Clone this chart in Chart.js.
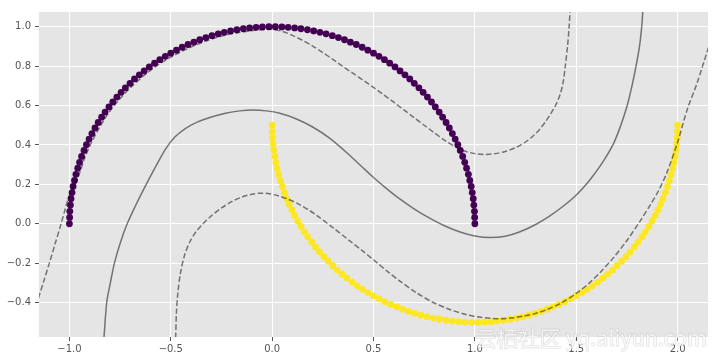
<!DOCTYPE html>
<html>
<head>
<meta charset="utf-8">
<script src="https://cdn.jsdelivr.net/npm/chart.js@4"></script>
<style>
  html, body { margin: 0; padding: 0; background: #ffffff; }
  #wrap { width: 718px; height: 361px; }
</style>
</head>
<body>
<div id="wrap"><canvas id="c" width="718" height="361"></canvas></div>
<script>
// ---- data ----
const xTicks = [-1.0, -0.5, 0.0, 0.5, 1.0, 1.5, 2.0];
const yTicks = [-0.4, -0.2, 0.0, 0.2, 0.4, 0.6, 0.8, 1.0];

// class 0 (upper moon)
const moon1X = [1.000, 0.999, 0.998, 0.995, 0.992, 0.987, 0.982, 0.975, 0.968, 0.959, 0.950, 0.940, 0.928, 0.916, 0.903, 0.889, 0.874, 0.858, 0.841, 0.824, 0.805, 0.786, 0.766, 0.745, 0.724, 0.701, 0.679, 0.655, 0.631, 0.606, 0.580, 0.554, 0.527, 0.500, 0.472, 0.444, 0.415, 0.386, 0.357, 0.327, 0.297, 0.266, 0.236, 0.205, 0.174, 0.142, 0.111, 0.079, 0.048, 0.016,
  -0.016, -0.048, -0.079, -0.111, -0.142, -0.174, -0.205, -0.236, -0.266, -0.297, -0.327, -0.357, -0.386, -0.415, -0.444, -0.472, -0.500, -0.527, -0.554, -0.580, -0.606, -0.631, -0.655, -0.679, -0.701, -0.724, -0.745, -0.766, -0.786, -0.805, -0.824, -0.841, -0.858, -0.874, -0.889, -0.903, -0.916, -0.928, -0.940, -0.950, -0.959, -0.968, -0.975, -0.982, -0.987, -0.992, -0.995, -0.998, -0.999, -1.000];
const moon1Y = [0.000, 0.032, 0.063, 0.095, 0.127, 0.158, 0.189, 0.220, 0.251, 0.282, 0.312, 0.342, 0.372, 0.401, 0.430, 0.458, 0.486, 0.514, 0.541, 0.567, 0.593, 0.618, 0.643, 0.667, 0.690, 0.713, 0.735, 0.756, 0.776, 0.796, 0.815, 0.833, 0.850, 0.866, 0.881, 0.896, 0.910, 0.922, 0.934, 0.945, 0.955, 0.964, 0.972, 0.979, 0.985, 0.990, 0.994, 0.997, 0.999, 1.000,
  1.000, 0.999, 0.997, 0.994, 0.990, 0.985, 0.979, 0.972, 0.964, 0.955, 0.945, 0.934, 0.922, 0.910, 0.896, 0.881, 0.866, 0.850, 0.833, 0.815, 0.796, 0.776, 0.756, 0.735, 0.713, 0.690, 0.667, 0.643, 0.618, 0.593, 0.567, 0.541, 0.514, 0.486, 0.458, 0.430, 0.401, 0.372, 0.342, 0.312, 0.282, 0.251, 0.220, 0.189, 0.158, 0.127, 0.095, 0.063, 0.032, 0.000];

// class 1 (lower moon)
const moon2X = [0.000, 0.001, 0.002, 0.005, 0.008, 0.013, 0.018, 0.025, 0.032, 0.041, 0.050, 0.060, 0.072, 0.084, 0.097, 0.111, 0.126, 0.142, 0.159, 0.176, 0.195, 0.214, 0.234, 0.255, 0.276, 0.299, 0.321, 0.345, 0.369, 0.394, 0.420, 0.446, 0.473, 0.500, 0.528, 0.556, 0.585, 0.614, 0.643, 0.673, 0.703, 0.734, 0.764, 0.795, 0.826, 0.858, 0.889, 0.921, 0.952, 0.984,
  1.016, 1.048, 1.079, 1.111, 1.142, 1.174, 1.205, 1.236, 1.266, 1.297, 1.327, 1.357, 1.386, 1.415, 1.444, 1.472, 1.500, 1.527, 1.554, 1.580, 1.606, 1.631, 1.655, 1.679, 1.701, 1.724, 1.745, 1.766, 1.786, 1.805, 1.824, 1.841, 1.858, 1.874, 1.889, 1.903, 1.916, 1.928, 1.940, 1.950, 1.959, 1.968, 1.975, 1.982, 1.987, 1.992, 1.995, 1.998, 1.999, 2.000];
const moon2Y = [0.500, 0.468, 0.437, 0.405, 0.373, 0.342, 0.311, 0.280, 0.249, 0.218, 0.188, 0.158, 0.128, 0.099, 0.070, 0.042, 0.014, -0.014, -0.041, -0.067, -0.093, -0.118, -0.143, -0.167, -0.190, -0.213, -0.235, -0.256, -0.276, -0.296, -0.315, -0.333, -0.350, -0.366, -0.381, -0.396, -0.410, -0.422, -0.434, -0.445, -0.455, -0.464, -0.472, -0.479, -0.485, -0.490, -0.494, -0.497, -0.499, -0.500,
  -0.500, -0.499, -0.497, -0.494, -0.490, -0.485, -0.479, -0.472, -0.464, -0.455, -0.445, -0.434, -0.422, -0.410, -0.396, -0.381, -0.366, -0.350, -0.333, -0.315, -0.296, -0.276, -0.256, -0.235, -0.213, -0.190, -0.167, -0.143, -0.118, -0.093, -0.067, -0.041, -0.014, 0.014, 0.042, 0.070, 0.099, 0.128, 0.158, 0.188, 0.218, 0.249, 0.280, 0.311, 0.342, 0.373, 0.405, 0.437, 0.468, 0.500];

// decision boundary (level 0, solid)
const boundaryX = [-0.835, -0.830, -0.816, -0.798, -0.778, -0.750, -0.715, -0.670, -0.621, -0.572, -0.525, -0.480, -0.430, -0.370, -0.300, -0.230, -0.160, -0.094, -0.030, 0.038, 0.120, 0.202, 0.280, 0.367, 0.440, 0.499, 0.560, 0.614, 0.700, 0.779, 0.850, 0.927, 1.000, 1.075, 1.150, 1.220, 1.300, 1.370, 1.437, 1.490, 1.530, 1.569, 1.630, 1.684, 1.720, 1.750, 1.775, 1.795, 1.812, 1.823, 1.829, 1.831];
const boundaryY = [-0.620, -0.582, -0.400, -0.300, -0.200, -0.100, 0.000, 0.100, 0.200, 0.295, 0.380, 0.440, 0.482, 0.516, 0.542, 0.561, 0.573, 0.577, 0.573, 0.561, 0.532, 0.490, 0.437, 0.362, 0.292, 0.236, 0.182, 0.138, 0.076, 0.027, -0.010, -0.042, -0.062, -0.070, -0.063, -0.042, -0.004, 0.040, 0.090, 0.136, 0.178, 0.225, 0.312, 0.407, 0.500, 0.595, 0.700, 0.800, 0.900, 1.000, 1.089, 1.120];

// margin at level +1 (dashed, near upper moon)
const marginUpperX = [-1.170, -1.153, -1.126, -1.099, -1.070, -1.041, -1.022, -1.005, -0.985, -0.962, -0.942, -0.924, -0.890, -0.851, -0.805, -0.753, -0.695, -0.632, -0.565, -0.490, -0.415, -0.336, -0.255, -0.171, -0.086, -0.030, 0.000, 0.050, 0.100, 0.150, 0.200, 0.250, 0.300, 0.350, 0.400, 0.450, 0.500, 0.550, 0.600, 0.650, 0.700, 0.750, 0.800, 0.850, 0.900, 0.950, 1.000, 1.050, 1.100, 1.150, 1.200, 1.250, 1.290, 1.320, 1.350, 1.375, 1.400, 1.420, 1.435, 1.446, 1.457, 1.465, 1.470, 1.471];
const marginUpperY = [-0.430, -0.377, -0.290, -0.200, -0.100, 0.000, 0.070, 0.130, 0.180, 0.225, 0.280, 0.336, 0.415, 0.490, 0.565, 0.632, 0.695, 0.753, 0.805, 0.851, 0.890, 0.924, 0.951, 0.970, 0.982, 0.987, 0.987, 0.977, 0.956, 0.931, 0.902, 0.869, 0.834, 0.798, 0.763, 0.728, 0.692, 0.655, 0.617, 0.578, 0.539, 0.500, 0.462, 0.424, 0.392, 0.369, 0.356, 0.352, 0.356, 0.367, 0.386, 0.415, 0.448, 0.480, 0.520, 0.560, 0.605, 0.655, 0.715, 0.800, 0.900, 1.000, 1.090, 1.120];

// margin at level -1 (dashed, near lower moon)
const marginLowerX = [-0.478, -0.476, -0.472, -0.465, -0.452, -0.432, -0.405, -0.375, -0.341, -0.300, -0.250, -0.200, -0.150, -0.100, -0.060, -0.020, 0.030, 0.080, 0.130, 0.180, 0.219, 0.300, 0.383, 0.449, 0.515, 0.570, 0.630, 0.710, 0.795, 0.880, 0.960, 1.020, 1.075, 1.125, 1.180, 1.240, 1.300, 1.355, 1.430, 1.503, 1.560, 1.620, 1.684, 1.750, 1.816, 1.865, 1.907, 1.948, 1.998, 2.047, 2.096, 2.149, 2.170];
const marginLowerY = [-0.620, -0.582, -0.450, -0.350, -0.250, -0.160, -0.090, -0.040, 0.000, 0.040, 0.080, 0.112, 0.135, 0.150, 0.155, 0.153, 0.142, 0.124, 0.100, 0.070, 0.043, -0.020, -0.087, -0.140, -0.196, -0.243, -0.291, -0.349, -0.400, -0.437, -0.462, -0.474, -0.480, -0.482, -0.479, -0.469, -0.455, -0.436, -0.400, -0.351, -0.305, -0.245, -0.172, -0.085, 0.015, 0.095, 0.169, 0.262, 0.407, 0.578, 0.714, 0.884, 0.950];

// ---- build chart ----
const pts = (xs, ys) => xs.map((x, i) => ({ x: x, y: ys[i] }));
const fmt = v => {
  const s = Math.abs(v).toFixed(1);
  return (v < -1e-9 ? '\u2212' : '') + s;
};
const lineColor = 'rgba(0,0,0,0.5)';

const watermark = {
  id: 'watermark',
  afterDraw(chart) {
    const ctx = chart.ctx;
    ctx.save();
    const txt = '云栖社区 yq.aliyun.com';
    ctx.font = '21px "Noto Sans CJK SC", "DejaVu Sans", sans-serif';
    const w = ctx.measureText(txt).width;
    const target = 232;
    ctx.translate(475, 338);
    ctx.scale(target / w, 1);
    ctx.textBaseline = 'middle';
    ctx.textAlign = 'left';
    ctx.lineWidth = 1.2;
    ctx.strokeStyle = 'rgba(160,160,160,0.35)';
    ctx.strokeText(txt, 0, 0);
    ctx.fillStyle = 'rgba(255,255,255,0.72)';
    ctx.fillText(txt, 0, 0);
    ctx.restore();
  }
};

const bgPlugin = {
  id: 'plotbg',
  beforeDraw(chart) {
    const a = chart.chartArea, ctx = chart.ctx;
    ctx.save();
    ctx.fillStyle = '#E5E5E5';
    ctx.fillRect(a.left, a.top, a.right - a.left, a.bottom - a.top);
    ctx.restore();
  }
};

const lineDs = (xs, ys, dash) => ({
  type: 'scatter',
  data: pts(xs, ys),
  showLine: true,
  borderColor: lineColor,
  backgroundColor: lineColor,
  borderWidth: 1.5,
  borderDash: dash,
  pointRadius: 0,
  pointHoverRadius: 0,
  tension: 0.3,
  fill: false,
  order: 0
});

new Chart(document.getElementById('c'), {
  type: 'scatter',
  data: {
    datasets: [
      lineDs(marginUpperX, marginUpperY, [5.5, 2.5]),
      lineDs(boundaryX, boundaryY, []),
      lineDs(marginLowerX, marginLowerY, [5.5, 2.5]),
      {
        data: pts(moon1X, moon1Y),
        backgroundColor: '#440154',
        borderColor: '#440154',
        borderWidth: 0,
        pointRadius: 3.4,
        pointHoverRadius: 3.4,
        order: 1
      },
      {
        data: pts(moon2X, moon2Y),
        backgroundColor: '#FDE725',
        borderColor: '#FDE725',
        borderWidth: 0,
        pointRadius: 3.4,
        pointHoverRadius: 3.4,
        order: 1
      }
    ]
  },
  options: {
    responsive: false,
    animation: false,
    devicePixelRatio: 1,
    elements: { line: { capBezierPoints: false } },
    layout: { padding: { top: 12, right: 10, left: 0, bottom: 0 } },
    plugins: { legend: { display: false }, tooltip: { enabled: false } },
    scales: {
      x: {
        type: 'linear',
        min: -1.15,
        max: 2.15,
        border: { display: false },
        grid: { color: '#FFFFFF', lineWidth: 1, tickColor: '#555555', tickLength: 4, tickWidth: 1 },
        ticks: {
          includeBounds: false,
          color: '#555555',
          padding: 2,
          maxRotation: 0,
          autoSkip: false,
          font: { family: '"DejaVu Sans", sans-serif', size: 10 },
          callback: v => fmt(v)
        },
        afterBuildTicks: s => { s.ticks = xTicks.map(v => ({ value: v })); },
        afterFit: s => { s.height = 24; }
      },
      y: {
        type: 'linear',
        min: -0.575,
        max: 1.075,
        border: { display: false },
        grid: { color: '#FFFFFF', lineWidth: 1, tickColor: '#555555', tickLength: 4, tickWidth: 1 },
        ticks: {
          includeBounds: false,
          color: '#555555',
          padding: 4,
          autoSkip: false,
          font: { family: '"DejaVu Sans", sans-serif', size: 10 },
          callback: v => fmt(v)
        },
        afterBuildTicks: s => { s.ticks = yTicks.map(v => ({ value: v })); },
        afterFit: s => { s.width = 39; }
      }
    }
  },
  plugins: [bgPlugin, watermark]
});
</script>
</body>
</html>
